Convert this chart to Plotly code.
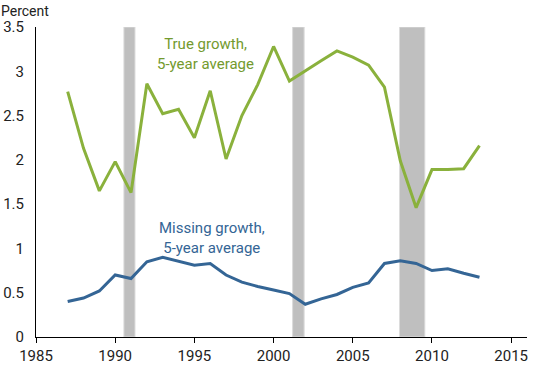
import plotly.graph_objects as go

years = list(range(1987, 2014))
true_growth = [2.77, 2.13, 1.65, 1.98, 1.63, 2.86, 2.52, 2.57, 2.25, 2.78,
               2.01, 2.50, 2.85, 3.28, 2.89, 3.01, 3.12, 3.23, 3.16, 3.07,
               2.82, 1.99, 1.46, 1.89, 1.89, 1.90, 2.16]
missing_growth = [0.40, 0.44, 0.52, 0.70, 0.66, 0.85, 0.90, 0.855, 0.81, 0.83,
                  0.70, 0.62, 0.57, 0.53, 0.49, 0.37, 0.43, 0.48, 0.56, 0.61,
                  0.83, 0.86, 0.83, 0.75, 0.77, 0.72, 0.675]
recessions = [(1990.55, 1991.25), (2001.2, 2001.93), (2007.95, 2009.55)]

GREEN = "#8AB13C"
BLUE = "#346595"
FONT = "Roboto"

fig = go.Figure()
fig.add_trace(go.Scatter(x=years, y=true_growth, mode="lines",
                         line=dict(color=GREEN, width=3), showlegend=False))
fig.add_trace(go.Scatter(x=years, y=missing_growth, mode="lines",
                         line=dict(color=BLUE, width=3), showlegend=False))

for x0, x1 in recessions:
    fig.add_shape(type="rect", xref="x", yref="y", x0=x0, x1=x1, y0=0, y1=3.5,
                  fillcolor="#BFBFBF", line=dict(color="#DCDCDC", width=1),
                  layer="below")

fig.add_annotation(x=1995.7, y=3.2, xref="x", yref="y",
                   text="True growth,<br>5-year average", showarrow=False,
                   font=dict(family=FONT, size=15, color="#739A2E"), align="center")
fig.add_annotation(x=1996.1, y=1.12, xref="x", yref="y",
                   text="Missing growth,<br>5-year average", showarrow=False,
                   font=dict(family=FONT, size=15, color=BLUE), align="center")
fig.add_annotation(x=0, y=1, xref="paper", yref="paper", xanchor="left",
                   yanchor="bottom", xshift=-37, yshift=6, text="Percent",
                   showarrow=False,
                   font=dict(family=FONT, size=14, color="#222222"))

fig.update_layout(
    width=550, height=365,
    margin=dict(l=36, r=23, t=27, b=28),
    plot_bgcolor="white", paper_bgcolor="white",
    font=dict(family=FONT, size=15, color="#222222"),
    xaxis=dict(range=[1985, 2016], tickvals=[1985, 1990, 1995, 2000, 2005, 2010, 2015],
               showgrid=False, zeroline=False, showline=True, linecolor="black",
               linewidth=1, ticks="outside", ticklen=5, tickcolor="black",
               automargin=False),
    yaxis=dict(range=[0, 3.5], tickvals=[0, 0.5, 1, 1.5, 2, 2.5, 3, 3.5],
               ticktext=["0", "0.5", "1", "1.5", "2", "2.5", "3", "3.5"],
               showgrid=False, zeroline=False, showline=True, linecolor="black",
               linewidth=1, ticks="", ticklabelstandoff=8, automargin=False),
)

fig.write_html("out.html", config={"displayModeBar": False},
               post_script="document.body.style.margin='0';document.body.style.overflow='hidden';")
